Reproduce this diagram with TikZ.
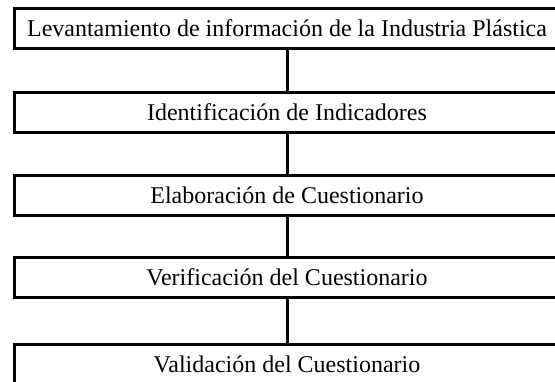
\documentclass[tikz,border=0pt]{standalone}
\usepackage{fontspec}
\setmainfont{Liberation Serif}
\begin{document}
\begin{tikzpicture}[x=1pt,y=-1pt,
  stepbox/.style={draw=black, line width=3pt, rectangle, minimum width=545pt, minimum height=40pt,
    inner sep=0pt, outer sep=0pt, text height=16pt, text depth=0pt,
    font=\fontsize{24}{28}\selectfont},
  link/.style={draw=black, line width=3pt}]
\useasboundingbox (0,0) rectangle (555,381);
\clip (0,0) rectangle (555,381);
\node[stepbox] (s1) at (287,28) {Levantamiento de información de la Industria Plástica};
\node[stepbox] (s2) at (287,112.5) {Identificación de Indicadores};
\node[stepbox] (s3) at (287,195.5) {Elaboración de Cuestionario};
\node[stepbox] (s4) at (287,277.5) {Verificación del Cuestionario};
\node[stepbox] (s5) at (287,364) {Validación del Cuestionario};
\draw[link] (s1.south) -- (s2.north);
\draw[link] (s2.south) -- (s3.north);
\draw[link] (s3.south) -- (s4.north);
\draw[link] (s4.south) -- (s5.north);
\end{tikzpicture}
\end{document}
